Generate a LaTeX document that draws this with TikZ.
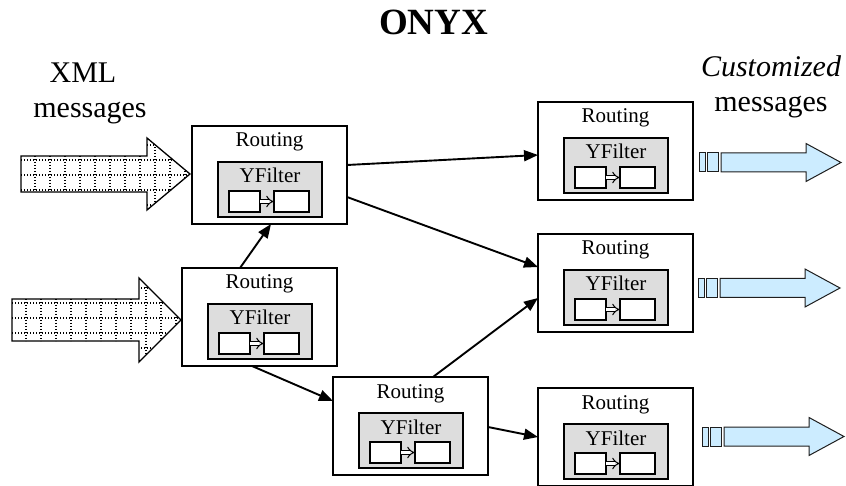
\documentclass[tikz,border=0pt]{standalone}
\usepackage{fontspec}
\setmainfont{Liberation Serif}
\usetikzlibrary{arrows.meta,calc}

\definecolor{filtergray}{RGB}{221,221,221}
\definecolor{outblue}{RGB}{204,236,255}
\definecolor{outline}{RGB}{30,30,30}

\tikzset{
  rbox/.style={draw, line width=2.8pt, fill=white, minimum width=155pt,
    minimum height=98pt, inner sep=0pt, outer sep=0pt},
  fbox/.style={draw, line width=2.2pt, fill=filtergray, minimum width=104pt,
    minimum height=55pt, inner sep=0pt, outer sep=0pt},
  sbox/.style={draw, line width=2pt, fill=white, minimum height=21pt,
    inner sep=0pt, outer sep=0pt},
  lbl/.style={font=\fontsize{21}{24}\selectfont, inner sep=0pt},
  conn/.style={line width=1.9pt, -{Triangle[length=14pt,width=11pt]}},
  dbl/.style={double, double distance=3pt, line width=1pt, -{Implies}},
  gridline/.style={line width=1.3pt, dash pattern=on 1.3pt off 1.7pt},
  blockedge/.style={line width=1.3pt},
  outarr/.style={draw=outline, fill=outblue, line width=1pt},
  big/.style={font=\fontsize{30}{34}\selectfont, inner sep=0pt},
}

% Routing box with its YFilter: name, x, y of the top-left corner
\newcommand{\routingbox}[3]{%
  \node[rbox, anchor=north west] (#1) at (#2,#3) {};
  \node[fbox, anchor=north west] (#1f) at ([xshift=26pt,yshift=-36pt]#1.north west) {};
  \node[lbl, anchor=base] (#1t) at ([yshift=-21pt]#1.north) {Routing};
  \node[lbl, anchor=base] (#1y) at ([yshift=-21pt]#1f.north) {YFilter};
  \node[sbox, minimum width=31pt, anchor=north west] (#1l)
    at ([xshift=11pt,yshift=-29pt]#1f.north west) {};
  \node[sbox, minimum width=35pt, anchor=north west] (#1r)
    at ([xshift=56pt,yshift=-29pt]#1f.north west) {};
  \draw[dbl] (#1l.east) -- (#1r.west);
}

% Incoming block arrow with a dotted grid: left, head base, tip, centre y,
% shaft half height, head half height
\newcommand{\inarrow}[6]{%
  \begin{scope}
    \clip (#1,{#4-#5}) -- (#2,{#4-#5}) -- (#2,{#4-#6}) -- (#3,#4)
      -- (#2,{#4+#6}) -- (#2,{#4+#5}) -- (#1,{#4+#5}) -- cycle;
    \foreach \k in {0,...,12}
      \draw[gridline] ({#1+14+15*\k},{#4-#6}) -- ({#1+14+15*\k},{#4+#6});
    \foreach \k in {-2,...,5}
      \draw[gridline] (#1,{#4-#5+4+15*\k}) -- (#3,{#4-#5+4+15*\k});
  \end{scope}
  \draw[blockedge] (#1,{#4-#5}) -- (#2,{#4-#5}) -- (#2,{#4-#6}) -- (#3,#4)
    -- (#2,{#4+#6}) -- (#2,{#4+#5}) -- (#1,{#4+#5}) -- cycle;
}

% Outgoing block arrow with two lead-in bars: x of the first bar, centre y
\newcommand{\outarrow}[2]{%
  \draw[outarr] (#1,{#2-9.5}) rectangle ({#1+6},{#2+9.5});
  \draw[outarr] ({#1+8},{#2-9.5}) rectangle ({#1+19},{#2+9.5});
  \draw[outarr] ({#1+22},{#2-9.5}) -- ({#1+107},{#2-9.5}) -- ({#1+107},{#2-19})
    -- ({#1+142},#2) -- ({#1+107},{#2+19}) -- ({#1+107},{#2+9.5})
    -- ({#1+22},{#2+9.5}) -- cycle;
}

\begin{document}
\begin{tikzpicture}[x=1pt,y=-1pt]
\useasboundingbox (0,0) rectangle (846,486);

% titles
\node[font=\bfseries\fontsize{37}{40}\selectfont, inner sep=0pt, anchor=base]
  (title) at (433.5,35) {ONYX};
\node[big, anchor=base] (inA) at (83,83) {XML};
\node[big, anchor=base] (inB) at (90,118) {messages};
\node[big, anchor=base] (outA) at (771,77) {\itshape Customized};
\node[big, anchor=base] (outB) at (771,112) {messages};

% incoming message streams
\inarrow{21}{147}{190}{174}{18}{36}
\inarrow{12}{139}{181}{320}{21}{42}

% routing boxes
\routingbox{A}{192}{126}
\routingbox{B}{182}{268}
\routingbox{C}{333}{377}
\routingbox{D}{538}{102}
\routingbox{E}{538}{234}
\routingbox{F}{538}{388}

% outgoing customized streams
\outarrow{699}{162.5}
\outarrow{698}{288}
\outarrow{702}{436.5}

% routing links
\draw[conn] ([xshift=58pt]B.north west) -- ([xshift=79pt]A.south west);
\draw[conn] ([xshift=70pt]B.south west) -- ([yshift=-24pt]C.north west);
\draw[conn] ([yshift=-39pt]A.north east) -- ([yshift=-53pt]D.north west);
\draw[conn] ([yshift=-71pt]A.north east) -- ([yshift=-33pt]E.north west);
\draw[conn] ([xshift=100pt]C.north west) -- ([yshift=-64pt]E.north west);
\draw[conn] ([yshift=-50pt]C.north east) -- ([yshift=-49pt]F.north west);
\end{tikzpicture}
\end{document}
